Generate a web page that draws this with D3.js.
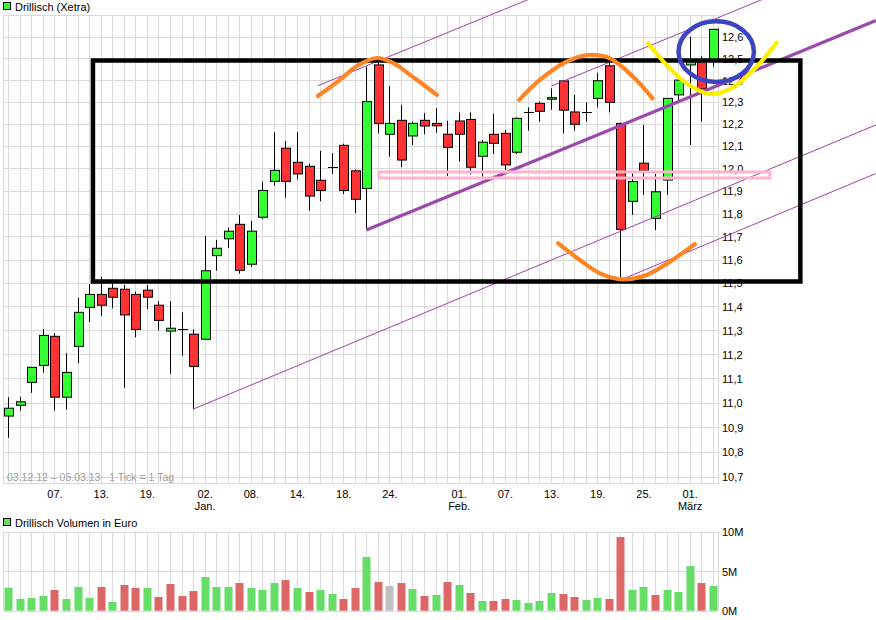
<!DOCTYPE html>
<html><head><meta charset="utf-8">
<script src="https://cdn.jsdelivr.net/npm/d3@7/dist/d3.min.js"></script>
<style>
body{margin:0;background:#fff}
svg{display:block}
text{font-family:"Liberation Sans",Arial,sans-serif;font-size:11px;fill:#000}
</style>
</head><body>
<svg id="chart" width="876" height="620"></svg>
<script>
// ---------------- DATA ----------------
const dates = ["03.12.12","04.12.12","05.12.12","06.12.12","07.12.12","10.12.12","11.12.12","12.12.12","13.12.12","14.12.12","17.12.12","18.12.12","19.12.12","20.12.12","21.12.12","27.12.12","28.12.12",
"02.01.13","03.01.13","04.01.13","07.01.13","08.01.13","09.01.13","10.01.13","11.01.13","14.01.13","15.01.13","16.01.13","17.01.13","18.01.13","21.01.13","22.01.13","23.01.13","24.01.13","25.01.13","28.01.13","29.01.13","30.01.13","31.01.13",
"01.02.13","04.02.13","05.02.13","06.02.13","07.02.13","08.02.13","11.02.13","12.02.13","13.02.13","14.02.13","15.02.13","18.02.13","19.02.13","20.02.13","21.02.13","22.02.13","25.02.13","26.02.13","27.02.13","28.02.13",
"01.03.13","04.03.13","05.03.13"];
const open  = [10.945,10.989,11.083,11.153,11.274,11.022,11.232,11.396,11.451,11.477,11.473,11.451,11.469,11.405,11.296,11.303,11.283,11.262,11.617,11.690,11.753,11.580,11.784,11.942,12.090,12.027,12.009,11.947,12.005,12.103,11.989,11.911,12.470,12.153,12.216,12.145,12.216,12.202,12.153,12.213,12.220,12.054,12.153,12.157,12.072,12.254,12.293,12.312,12.396,12.254,12.254,12.316,12.466,12.202,11.854,12.023,11.779,11.948,12.332,12.470,12.485,12.493];
const high  = [11.022,11.024,11.145,11.305,11.287,11.204,11.437,11.495,11.527,11.498,11.491,11.463,11.491,11.422,11.422,11.375,11.303,11.702,11.685,11.738,11.794,11.768,11.941,12.162,12.123,12.162,12.020,12.078,12.067,12.110,11.995,12.462,12.500,12.373,12.286,12.210,12.249,12.271,12.214,12.252,12.252,12.127,12.246,12.172,12.230,12.275,12.301,12.362,12.400,12.332,12.297,12.434,12.485,12.205,11.978,12.195,11.975,12.316,12.400,12.601,12.510,12.636];
const low   = [10.857,10.967,11.040,11.123,10.967,10.971,11.162,11.334,11.360,11.392,11.061,11.270,11.388,11.299,11.119,11.193,10.973,11.262,11.552,11.651,11.540,11.569,11.775,11.923,11.870,11.951,11.814,11.854,11.974,11.886,11.801,11.728,12.157,12.052,12.005,12.105,12.153,12.160,11.966,12.030,11.975,11.963,12.064,11.993,12.064,12.169,12.210,12.264,12.157,12.169,12.210,12.275,12.252,11.512,11.794,11.882,11.728,11.882,12.301,12.105,12.210,12.462];
const close = [10.977,11.003,11.145,11.278,11.022,11.124,11.375,11.451,11.405,11.439,11.364,11.303,11.439,11.341,11.308,11.303,11.149,11.552,11.649,11.723,11.554,11.723,11.902,11.991,11.942,11.975,11.877,11.902,12.005,11.902,11.863,12.301,12.202,12.202,12.037,12.202,12.190,12.191,12.094,12.153,12.005,12.117,12.112,12.015,12.225,12.254,12.257,12.319,12.262,12.198,12.254,12.397,12.298,11.731,11.941,11.989,11.896,12.316,12.400,12.493,12.359,12.636];
// volume in million euro
const volume = [2.91,1.48,1.61,1.86,2.62,1.48,3.0,1.61,3.0,1.1,3.25,2.87,2.87,1.73,3.38,1.86,2.49,4.26,3.0,3.0,3.5,2.87,2.62,3.5,3.88,2.87,2.37,2.62,2.11,1.48,2.87,6.8,3.63,3.13,3.5,2.74,1.86,1.99,3.63,3.25,2.24,1.23,1.23,1.48,1.36,0.98,1.23,2.24,2.11,1.73,1.36,1.61,1.48,9.32,2.62,3.0,1.99,2.62,2.37,5.65,3.5,3.13];
const volumeDir = ["u","u","u","u","d","u","u","u","d","u","d","d","u","d","d","d","d","u","u","u","d","u","u","u","d","u","d","u","u","d","d","u","d","f","d","u","d","u","d","u","d","u","d","d","u","u","u","u","d","d","u","u","d","d","u","u","d","u","u","u","d","u"];
const tickDates  = ["07.12.12","13.12.12","19.12.12","02.01.13","08.01.13","14.01.13","18.01.13","24.01.13","01.02.13","07.02.13","13.02.13","19.02.13","25.02.13","01.03.13"];
const tickLabels = ["07.","13.","19.","02.","08.","14.","18.","24.","01.","07.","13.","19.","25.","01."];
const monthLabels= ["","","","Jan.","","","","","Feb.","","","","","März"];
const priceTicks = [10.7,10.8,10.9,11.0,11.1,11.2,11.3,11.4,11.5,11.6,11.7,11.8,11.9,12.0,12.1,12.2,12.3,12.4,12.5,12.6];
const volumeTicks = [0,5,10];
// hand-drawn annotations, in (day index, price) units
const boxRect   = {i0:7.33, i1:68.59, p0:11.506, p1:12.4905};
const pinkRect  = {i0:32.1, i1:65.95, p0:11.957, p1:11.984};
const thinLines = [[[16,10.973],[75.13,12.195]],[[53,11.512],[75.13,11.977]],[[47.05,12.373],[75.13,13.0]],[[26.81,12.374],[75.13,13.471]]];
const thickLine = [[31,11.728],[75.13,12.677]];
const orangeCap1 = [[26.81,12.327],[28.72,12.401],[30.19,12.465],[31.92,12.502],[33.31,12.479],[35.04,12.414],[37.12,12.332]];
const orangeCap2 = [[44.24,12.309],[46.03,12.401],[48.35,12.485],[50.22,12.516],[52.10,12.5005],[54.11,12.4155],[55.79,12.316]];
const orangeCup  = [[47.62,11.670],[49.50,11.598],[51.23,11.541],[53.25,11.5154],[55.27,11.5338],[57.29,11.591],[59.45,11.667]];
const yellowCup  = [[55.41,12.5705],[57.00,12.4696],[58.74,12.3851],[60.75,12.336],[62.77,12.3668],[64.80,12.4617],[66.53,12.5734]];
const blueEllipse = {i0:57.87, i1:64.74, p0:12.382, p1:12.683};

// ---------------- LAYOUT ----------------
const L = 3, R = 718, T = 15, B = 483;
const VT = 531.7, VB = 610.7;
const svg = d3.select("#chart");
const x = d3.scaleLinear().domain([0, dates.length - 1]).range([8.3, 712.7]);
const y = d3.scaleLog().domain([10.7, 12.6]).range([477, 37]);
const yv = d3.scaleLinear().domain([0, 10]).range([VB, VT]);
const px = v => Math.round(v) + 0.5;
const grid = "#dadada";
const idx = d3.range(dates.length);

// ---------- main panel grid ----------
const gMain = svg.append("g");
gMain.selectAll("line.h").data(priceTicks).join("line")
  .attr("x1", L).attr("x2", R).attr("y1", d => px(y(d))).attr("y2", d => px(y(d)))
  .attr("stroke", grid);
gMain.selectAll("line.v").data(idx).join("line")
  .attr("x1", d => px(x(d))).attr("x2", d => px(x(d))).attr("y1", T).attr("y2", B)
  .attr("stroke", grid);
gMain.append("rect").attr("x", L + 0.5).attr("y", T + 0.5).attr("width", R - L).attr("height", B - T)
  .attr("fill", "none").attr("stroke", grid);

// period text
gMain.append("text").attr("x", 7).attr("y", 481).style("fill", "#a0a0a0").style("font-size", "10.5px")
  .attr("xml:space", "preserve").text("03.12.12 \u2013 05.03.13   1 Tick = 1 Tag");

// ---------- candles ----------
const gC = svg.append("g");
idx.forEach(i => {
  const cx = Math.round(x(i));
  gC.append("line").attr("x1", cx + 0.5).attr("x2", cx + 0.5)
    .attr("y1", y(high[i])).attr("y2", y(low[i])).attr("stroke", "#000");
  if (Math.abs(open[i] - close[i]) < 0.0005) {
    gC.append("line").attr("x1", cx - 4).attr("x2", cx + 6)
      .attr("y1", px(y(open[i]))).attr("y2", px(y(open[i]))).attr("stroke", "#000");
  } else {
    const top = y(Math.max(open[i], close[i])), bot = y(Math.min(open[i], close[i]));
    gC.append("rect").attr("x", cx - 3.5).attr("width", 9)
      .attr("y", top).attr("height", Math.max(1, bot - top))
      .attr("fill", close[i] > open[i] ? "#33ff33" : "#ff3333")
      .attr("stroke", "#000").attr("stroke-width", 1);
  }
});

// ---------- axes ----------
const yAxis = d3.axisRight(y).tickValues(priceTicks).tickSize(0).tickPadding(4)
  .tickFormat(d => d.toFixed(1).replace(".", ","));
svg.append("g").attr("transform", `translate(${R},0)`).call(yAxis)
  .call(g => g.select(".domain").remove())
  .call(g => g.selectAll("text").attr("font-size", null).attr("font-family", null).attr("dy", "0.36em"));

const tickIdx = tickDates.map(d => dates.indexOf(d));
const xAxis = d3.axisBottom(x).tickValues(tickIdx).tickSize(0).tickPadding(7)
  .tickFormat((d, k) => tickLabels[k]);
const gx = svg.append("g").attr("transform", `translate(0,${B})`).call(xAxis);
gx.select(".domain").remove();
gx.selectAll("text").attr("font-size", null).attr("font-family", null);
gx.selectAll(".tick").append("text").attr("y", 19).attr("dy", "0.71em").attr("text-anchor", "middle")
  .text((d, k) => monthLabels[k]);

// ---------- legends ----------
svg.append("rect").attr("x", 3.5).attr("y", 2.5).attr("width", 7).attr("height", 7)
  .attr("fill", "#33ff33").attr("stroke", "#000");
svg.append("text").attr("x", 15).attr("y", 11).text("Drillisch (Xetra)");
svg.append("rect").attr("x", 3.5).attr("y", 518.5).attr("width", 7).attr("height", 7)
  .attr("fill", "#66dd66").attr("stroke", "#000");
svg.append("text").attr("x", 15).attr("y", 527).text("Drillisch Volumen in Euro");

// ---------- volume panel ----------
const gV = svg.append("g");
gV.selectAll("line.vh").data(volumeTicks).join("line")
  .attr("x1", L).attr("x2", R).attr("y1", d => px(yv(d))).attr("y2", d => px(yv(d)))
  .attr("stroke", grid);
gV.selectAll("line.vv").data(idx).join("line")
  .attr("x1", d => px(x(d))).attr("x2", d => px(x(d))).attr("y1", VT).attr("y2", VB)
  .attr("stroke", grid);
[L, R].forEach(v => gV.append("line").attr("x1", v + 0.5).attr("x2", v + 0.5).attr("y1", VT).attr("y2", VB).attr("stroke", grid));
const volColor = {u: "#66dd66", d: "#dd6666", f: "#c0c0c0"};
gV.selectAll("rect.bar").data(idx).join("rect")
  .attr("x", i => Math.round(x(i)) - 3.5).attr("width", 8)
  .attr("y", i => yv(volume[i])).attr("height", i => yv(0) - yv(volume[i]))
  .attr("fill", i => volColor[volumeDir[i]]);
const vAxis = d3.axisRight(yv).tickValues(volumeTicks).tickSize(0).tickPadding(4).tickFormat(d => d + "M");
svg.append("g").attr("transform", `translate(${R},0)`).call(vAxis)
  .call(g => g.select(".domain").remove())
  .call(g => g.selectAll("text").attr("font-size", "12px").attr("font-family", null).attr("dy", "0.36em"));

// ---------- annotations ----------
const gA = svg.append("g");
const line = d3.line().x(d => x(d[0])).y(d => y(d[1]));
const curve = d3.line().x(d => x(d[0])).y(d => y(d[1])).curve(d3.curveCatmullRom.alpha(0.5));
thinLines.forEach(l => gA.append("path").attr("d", line(l)).attr("fill", "none")
  .attr("stroke", "#a040a8").attr("stroke-width", 1));
gA.append("path").attr("d", line(thickLine)).attr("fill", "none")
  .attr("stroke", "#9c48ac").attr("stroke-width", 3.2);
gA.append("rect").attr("x", x(pinkRect.i0)).attr("y", y(pinkRect.p1))
  .attr("width", x(pinkRect.i1) - x(pinkRect.i0)).attr("height", y(pinkRect.p0) - y(pinkRect.p1))
  .attr("fill", "none").attr("stroke", "#ffb4cc").attr("stroke-width", 3);
gA.append("rect").attr("x", x(boxRect.i0)).attr("y", y(boxRect.p1))
  .attr("width", x(boxRect.i1) - x(boxRect.i0)).attr("height", y(boxRect.p0) - y(boxRect.p1))
  .attr("fill", "none").attr("stroke", "#000").attr("stroke-width", 4.5);
[orangeCap1, orangeCap2, orangeCup].forEach(a => gA.append("path").attr("d", curve(a))
  .attr("fill", "none").attr("stroke", "#ff8424").attr("stroke-width", 4.2).attr("stroke-linecap", "round"));
gA.append("path").attr("d", curve(yellowCup)).attr("fill", "none")
  .attr("stroke", "#ffee00").attr("stroke-width", 4.2).attr("stroke-linecap", "round");
gA.append("ellipse")
  .attr("cx", (x(blueEllipse.i0) + x(blueEllipse.i1)) / 2)
  .attr("cy", (y(blueEllipse.p0) + y(blueEllipse.p1)) / 2)
  .attr("rx", (x(blueEllipse.i1) - x(blueEllipse.i0)) / 2 - 2)
  .attr("ry", (y(blueEllipse.p0) - y(blueEllipse.p1)) / 2 - 2)
  .attr("fill", "none").attr("stroke", "#3c44c4").attr("stroke-width", 4.5);
</script>
</body></html>
